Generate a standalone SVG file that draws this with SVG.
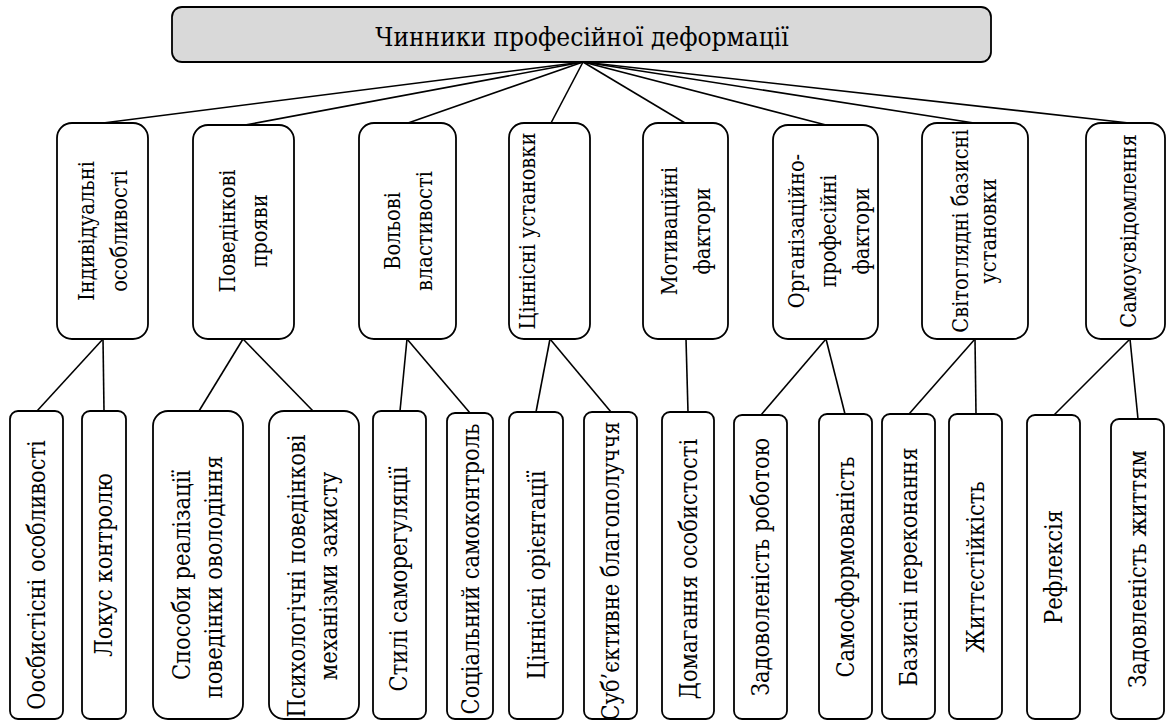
<svg xmlns="http://www.w3.org/2000/svg" width="1166" height="720" viewBox="0 0 1166 720">
<style>
.box{fill:#fff;stroke:#000;stroke-width:1.8}
.top{fill:#d9d9d9;stroke:#000;stroke-width:1.8}
.ln{stroke:#000;stroke-width:1.6;fill:none}
text{font-family:'DejaVu Serif','Liberation Serif',serif;font-stretch:condensed;text-anchor:middle;fill:#000}
.t0{font-size:26px}
.t1{font-size:21.6px}
.t2{font-size:23.4px}
</style>
<rect width="1166" height="720" fill="#fff"/>
<g id="connectors">
<line class="ln" x1="583" y1="62" x2="103" y2="123"/>
<line class="ln" x1="583" y1="62" x2="245" y2="125"/>
<line class="ln" x1="583" y1="62" x2="408" y2="123"/>
<line class="ln" x1="583" y1="62" x2="551" y2="123"/>
<line class="ln" x1="583" y1="62" x2="685" y2="123"/>
<line class="ln" x1="583" y1="62" x2="826" y2="125"/>
<line class="ln" x1="583" y1="62" x2="974" y2="123"/>
<line class="ln" x1="583" y1="62" x2="1129" y2="123"/>
<line class="ln" x1="103" y1="339" x2="37" y2="411"/>
<line class="ln" x1="103" y1="339" x2="104" y2="411"/>
<line class="ln" x1="243" y1="339" x2="199" y2="411"/>
<line class="ln" x1="243" y1="339" x2="313" y2="411"/>
<line class="ln" x1="407" y1="339" x2="400" y2="411"/>
<line class="ln" x1="407" y1="339" x2="470" y2="413"/>
<line class="ln" x1="550" y1="339" x2="536" y2="412"/>
<line class="ln" x1="550" y1="339" x2="611" y2="412"/>
<line class="ln" x1="686" y1="339" x2="688" y2="412"/>
<line class="ln" x1="826" y1="339" x2="761" y2="415"/>
<line class="ln" x1="826" y1="339" x2="845" y2="414"/>
<line class="ln" x1="975" y1="339" x2="909" y2="414"/>
<line class="ln" x1="975" y1="339" x2="976" y2="414"/>
<line class="ln" x1="1130" y1="339" x2="1054" y2="415"/>
<line class="ln" x1="1130" y1="339" x2="1138" y2="419"/>
</g>
<g id="root">
<rect class="top" x="172" y="7" width="819" height="55" rx="10"/>
<text class="t0" x="582" y="46">Чинники професійної деформації</text>
</g>
<g id="m1"><rect class="box" x="57" y="123" width="91" height="216" rx="15"/>
<text class="t1" transform="translate(94,231) rotate(-90)">Індивідуальні</text>
<text class="t1" transform="translate(127,231) rotate(-90)">особливості</text></g>
<g id="m2"><rect class="box" x="193" y="125" width="101" height="214" rx="15"/>
<text class="t1" transform="translate(235,231) rotate(-90)">Поведінкові</text>
<text class="t1" transform="translate(267,231) rotate(-90)">прояви</text></g>
<g id="m3"><rect class="box" x="359" y="123" width="97" height="216" rx="15"/>
<text class="t1" transform="translate(400,231) rotate(-90)">Вольові</text>
<text class="t1" transform="translate(432,231) rotate(-90)">властивості</text></g>
<g id="m4"><rect class="box" x="509" y="123" width="81" height="216" rx="15"/>
<text class="t1" transform="translate(535,231) rotate(-90)">Ціннісні установки</text></g>
<g id="m5"><rect class="box" x="643" y="123" width="85" height="216" rx="15"/>
<text class="t1" transform="translate(677,231) rotate(-90)">Мотиваційні</text>
<text class="t1" transform="translate(710,231) rotate(-90)">фактори</text></g>
<g id="m6"><rect class="box" x="773" y="125" width="105" height="214" rx="15"/>
<text class="t1" transform="translate(804,231) rotate(-90)">Організаційно-</text>
<text class="t1" transform="translate(836,231) rotate(-90)">професійні</text>
<text class="t1" transform="translate(869,231) rotate(-90)">фактори</text></g>
<g id="m7"><rect class="box" x="922" y="123" width="106" height="216" rx="15"/>
<text class="t1" transform="translate(968,231) rotate(-90)">Світоглядні базисні</text>
<text class="t1" transform="translate(996,231) rotate(-90)">установки</text></g>
<g id="m8"><rect class="box" x="1086" y="123" width="79" height="216" rx="15"/>
<text class="t1" transform="translate(1136,231) rotate(-90)">Самоусвідомлення</text></g>
<g id="b1"><rect class="box" x="10" y="411" width="53" height="308" rx="8"/>
<text class="t2" transform="translate(45,575) rotate(-90)">Оосбистісні особливості</text></g>
<g id="b2"><rect class="box" x="82" y="411" width="44" height="308" rx="8"/>
<text class="t2" transform="translate(112,565) rotate(-90)">Локус контролю</text></g>
<g id="b3"><rect class="box" x="153" y="411" width="90" height="308" rx="15"/>
<text class="t2" transform="translate(190,575) rotate(-90)">Способи реалізації</text>
<text class="t2" transform="translate(222,577) rotate(-90)">поведінки оволодіння</text></g>
<g id="b4"><rect class="box" x="269" y="411" width="90" height="308" rx="15"/>
<text class="t2" transform="translate(305,576) rotate(-90)">Психологічні поведінкові</text>
<text class="t2" transform="translate(337,576) rotate(-90)">механізми захисту</text></g>
<g id="b5"><rect class="box" x="373" y="411" width="53" height="308" rx="8"/>
<text class="t2" transform="translate(407,579) rotate(-90)">Стилі саморегуляції</text></g>
<g id="b6"><rect class="box" x="447" y="413" width="46" height="306" rx="8"/>
<text class="t2" transform="translate(479,569) rotate(-90)">Соціальний самоконтроль</text></g>
<g id="b7"><rect class="box" x="509" y="412" width="54" height="307" rx="8"/>
<text class="t2" transform="translate(545,575) rotate(-90)">Ціннісні орієнтації</text></g>
<g id="b8"><rect class="box" x="584" y="412" width="53" height="307" rx="8"/>
<text class="t2" transform="translate(619,571) rotate(-90)">Суб’єктивне благополуччя</text></g>
<g id="b9"><rect class="box" x="662" y="412" width="52" height="307" rx="8"/>
<text class="t2" transform="translate(697,569) rotate(-90)">Домагання особистості</text></g>
<g id="b10"><rect class="box" x="734" y="415" width="53" height="304" rx="8"/>
<text class="t2" transform="translate(769,567) rotate(-90)">Задоволеність роботою</text></g>
<g id="b11"><rect class="box" x="819" y="414" width="53" height="305" rx="8"/>
<text class="t2" transform="translate(854,567) rotate(-90)">Самосформованість</text></g>
<g id="b12"><rect class="box" x="882" y="414" width="53" height="305" rx="8"/>
<text class="t2" transform="translate(917,567) rotate(-90)">Базисні переконання</text></g>
<g id="b13"><rect class="box" x="949" y="414" width="53" height="305" rx="8"/>
<text class="t2" transform="translate(984,567) rotate(-90)">Життєстійкість</text></g>
<g id="b14"><rect class="box" x="1027" y="415" width="53" height="304" rx="8"/>
<text class="t2" transform="translate(1062,567) rotate(-90)">Рефлексія</text></g>
<g id="b15"><rect class="box" x="1111" y="419" width="53" height="300" rx="8"/>
<text class="t2" transform="translate(1146,569) rotate(-90)">Задовленість життям</text></g>
</svg>
